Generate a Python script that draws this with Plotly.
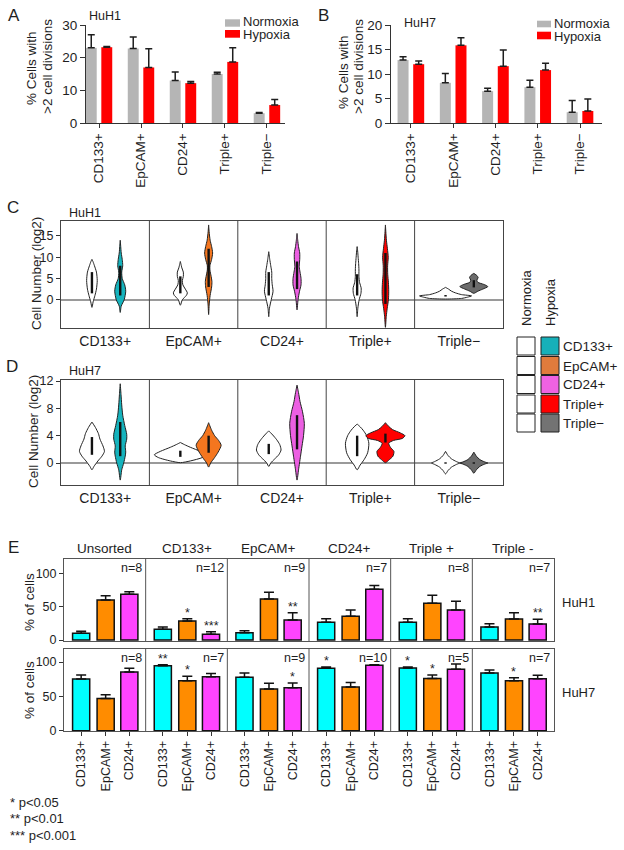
import plotly.graph_objects as go

W, H = 624, 850
def px(x): return x / W
def py(y): return 1 - y / H

FONT = "Liberation Sans, Arial, sans-serif"
INK = "#1e1e1e"

# ---------------- data ----------------
markers5 = ["CD133+", "EpCAM+", "CD24+", "Triple+", "Triple\u2212"]

# Panel A (HuH1) % cells with >2 divisions
huh1_norm_mean = [23.0, 22.8, 13.0, 15.0, 3.0]
huh1_norm_err = [4.0, 3.5, 2.6, 0.5, 0.25]
huh1_hyp_mean = [23.2, 17.0, 12.2, 18.7, 5.5]
huh1_hyp_err = [0.25, 5.7, 0.5, 4.3, 1.7]
# Panel B (HuH7)
huh7_norm_mean = [12.85, 8.2, 6.5, 7.3, 2.2]
huh7_norm_err = [0.65, 1.9, 0.6, 1.4, 2.4]
huh7_hyp_mean = [12.0, 15.85, 11.6, 10.8, 2.45]
huh7_hyp_err = [0.65, 1.55, 3.3, 1.4, 2.45]

# Panels C/D: violin density profiles (value, half-width)
huh1_norm_profiles = [
    [(-1.8, 0), (-0.5, 1.2), (1, 3), (2.5, 4.5), (4.5, 5.3), (6.5, 4.5), (8, 2.5), (9, 1), (9.5, 0)],
    [(-1.3, 0), (0, 2), (1, 6), (1.6, 7), (2.5, 5), (3.5, 2.5), (4.5, 2), (5.5, 3), (6.5, 3), (7.5, 1.5), (8.5, 0.5), (9, 0)],
    [(-4, 0), (-2, 0.7), (0, 2.5), (2, 4.3), (3.5, 3.5), (5, 3), (6.5, 3), (8, 2), (9.5, 1), (11.3, 0)],
    [(-4, 0), (-2, 0.7), (0, 2), (1.5, 3.8), (2.8, 4), (4, 2.5), (5.5, 1.8), (7, 1.8), (8.5, 1.5), (10, 1), (11.5, 0.5), (12.5, 0)],
    [(0.15, 0), (0.3, 16), (0.6, 22), (0.9, 26), (1.2, 16), (1.6, 10), (2.0, 6), (2.5, 3), (2.9, 0)],
]
huh1_hyp_profiles = [
    [(-3, 0), (-1.5, 1), (0, 4), (2, 5.5), (3.5, 4.5), (5, 2), (6.5, 1.5), (8, 2.5), (9.5, 2), (11, 1), (12.5, 0.5), (14, 0)],
    [(-3.5, 0), (-1, 0.6), (1, 1.5), (3, 3), (4.3, 3.3), (5.5, 2.5), (7, 1.3), (8, 1.3), (9.5, 3), (11, 4), (12.5, 3), (14, 1.5), (16, 0.5), (17.6, 0)],
    [(-2.4, 0), (0, 1), (2, 2.5), (3.5, 4), (5, 4), (6.5, 3), (7.8, 2.2), (9.5, 2.7), (11, 2.7), (12.5, 1.5), (14, 0.7), (15.6, 0)],
    [(-6.5, 0), (-4, 0.8), (-2, 1.8), (0, 3), (2, 3.3), (4, 3), (6, 2.3), (8, 2.2), (10, 2.8), (12, 2), (14, 1), (16, 0.4), (17.6, 0)],
    [(1.5, 0), (2.0, 4), (2.5, 9), (3.1, 14), (3.6, 10), (4.1, 4), (4.6, 3), (5.2, 4.3), (5.7, 3), (6.2, 0)],
]
huh7_norm_profiles = [
    [(-1, 0), (-0.5, 2), (0.3, 6), (1, 10), (1.7, 12.5), (2.5, 11), (3.5, 8), (4.3, 6.5), (5.2, 3.5), (6, 0)],
    [(0.05, 0), (0.3, 10), (0.8, 22), (1.2, 26), (1.7, 20), (2.3, 10), (2.7, 4), (3.0, 0)],
    [(-0.5, 0), (0, 2), (0.6, 6), (1.2, 10), (1.9, 12.3), (2.7, 11), (3.4, 8), (4.1, 4), (4.7, 0)],
    [(-1, 0), (-0.3, 3), (0.5, 7), (1.5, 10.5), (2.9, 11.7), (4.0, 9.5), (4.8, 6), (5.3, 3), (5.7, 0)],
    [(-1.6, 0), (-1.1, 2.5), (-0.6, 6), (-0.2, 11), (0, 14), (0.2, 11), (0.6, 6), (1.1, 2.5), (1.7, 0)],
]
huh7_hyp_profiles = [
    [(-2.5, 0), (-1, 1.5), (0, 3.5), (1, 5), (1.6, 5.5), (2.5, 5), (3.5, 6.5), (4.2, 6.5), (5.5, 4.5), (7, 2.5), (8.5, 1.5), (10, 0.8), (11.6, 0)],
    [(-0.6, 0), (0, 2), (0.8, 6), (1.6, 9.5), (2.6, 12.5), (3.3, 10), (4.0, 6), (4.8, 3), (5.9, 0)],
    [(-2.5, 0), (-1, 1.5), (0, 2.5), (1, 3.5), (2.5, 5), (4, 6.5), (5.8, 7.3), (7.5, 5.5), (9, 3), (10.3, 1.5), (11.4, 0)],
    [(0.05, 0), (0.5, 4), (1.0, 7.5), (1.7, 8.5), (2.3, 5), (2.9, 3.3), (3.3, 8), (3.6, 17), (4.0, 19.5), (4.4, 15), (4.9, 7), (5.4, 3), (5.9, 0)],
    [(-1.5, 0), (-1.0, 2.5), (-0.5, 6), (-0.15, 11), (0, 14), (0.15, 11), (0.5, 6), (1.0, 2.5), (1.6, 0)],
]
# inner boxes (q1, q3)
huh1_norm_box = [(1.5, 6.5), (1.5, 5.5), (1, 6.5), (1, 6), (0.75, 1.1)]
huh1_hyp_box = [(1, 8), (3, 12), (2.5, 9), (-1, 11), (2.9, 4.6)]
huh7_norm_box = [(1.2, 3.8), (0.9, 1.8), (1.3, 2.8), (1, 4), (-0.1, 0.1)]
huh7_hyp_box = [(1, 6), (1.5, 4), (2, 7), (3, 4.3), (-0.1, 0.1)]

# Panel E
e_groups = ["Unsorted", "CD133+", "EpCAM+", "CD24+", "Triple +", "Triple -"]
markers3 = ["CD133+", "EpCAM+", "CD24+"]
e_huh1_mean = [
    [10, 16, 11, 26.5, 26.5, 19.5],      # CD133+
    [60, 28.5, 61.5, 35.5, 55, 31.5],    # EpCAM+
    [68.5, 8.5, 30, 76, 45, 24],         # CD24+
]
e_huh1_err = [
    [3, 3.5, 3, 5.5, 5.5, 5],
    [6.5, 3.5, 10, 9.5, 12, 9.5],
    [4, 4, 11, 5.5, 13, 7],
]
e_huh7_mean = [
    [75.2, 94.7, 77.7, 90.8, 91.3, 84],
    [47, 72.8, 60.7, 63.6, 76.2, 72.8],
    [85.4, 78.6, 62.6, 95.2, 89.4, 75.7],
]
e_huh7_err = [
    [5.8, 1.3, 6.3, 1.9, 1.4, 4.3],
    [5.4, 6.4, 8.3, 6.8, 4.8, 4.4],
    [5.4, 4.9, 6.8, 0.8, 7.6, 4.9],
]
e_huh1_sig = [
    ["", "", "", "", "", ""],
    ["", "*", "", "", "", ""],
    ["", "***", "**", "", "", "**"],
]
e_huh7_sig = [
    ["", "**", "", "*", "*", ""],
    ["", "*", "", "", "*", "*"],
    ["", "", "*", "", "", ""],
]
e_huh1_n = [8, 12, 9, 7, 8, 7]
e_huh7_n = [8, 7, 9, 10, 5, 7]

# ---------------- styles ----------------
GREY = "#b5b5b5"
RED = "#ff0000"
VCOL = ["#15b3bd", "#f4761f", "#ec5fe2", "#ff0000", "#6c6c6c"]
LEGCOL = ["#17b0b9", "#e07b3c", "#ef62e2", "#ff0000", "#737373"]
ECOL = ["#00ffff", "#ff8c00", "#ff44ff"]

fig = go.Figure()

# ---- A & B ----
for xa, ya, nm, ne, hm, he in [("x", "y", huh1_norm_mean, huh1_norm_err, huh1_hyp_mean, huh1_hyp_err),
                              ("x2", "y2", huh7_norm_mean, huh7_norm_err, huh7_hyp_mean, huh7_hyp_err)]:
    for off, m, e, c in [(-0.185, nm, ne, GREY), (0.185, hm, he, RED)]:
        fig.add_trace(go.Bar(
            x=[i + off for i in range(len(markers5))], y=m, width=0.26,
            marker=dict(color=c, line=dict(width=0)),
            error_y=dict(type="data", array=e, arrayminus=[0] * len(e), symmetric=False,
                         color=INK, thickness=1.5, width=3.5),
            xaxis=xa, yaxis=ya, showlegend=False, hoverinfo="skip"))

# ---- C & D violins ----
VPX_PER_UNIT = 442 / 5.0
def violin(center, prof, fill, xa, ya):
    vals = [p[0] for p in prof]
    hw = [p[1] / VPX_PER_UNIT for p in prof]
    xs = [center + w for w in hw] + [center - w for w in reversed(hw)]
    ys = vals + list(reversed(vals))
    fig.add_trace(go.Scatter(x=xs, y=ys, mode="lines", fill="toself", fillcolor=fill,
                             line=dict(color="#222222", width=1, shape="spline", smoothing=0.7),
                             xaxis=xa, yaxis=ya, showlegend=False, hoverinfo="skip"))

def inner(center, box, xa, ya):
    fig.add_trace(go.Scatter(x=[center, center], y=list(box), mode="lines",
                             line=dict(color="#111111", width=2.4),
                             xaxis=xa, yaxis=ya, showlegend=False, hoverinfo="skip"))

for xa, ya, npr, hpr, nbx, hbx in [("x3", "y3", huh1_norm_profiles, huh1_hyp_profiles, huh1_norm_box, huh1_hyp_box),
                                   ("x4", "y4", huh7_norm_profiles, huh7_hyp_profiles, huh7_norm_box, huh7_hyp_box)]:
    for i in range(5):
        violin(i + 0.35, npr[i], "white", xa, ya)
        inner(i + 0.35, nbx[i], xa, ya)
        violin(i + 0.67, hpr[i], VCOL[i], xa, ya)
        inner(i + 0.67, hbx[i], xa, ya)

# ---- E bars ----
E_OFF = [0.21, 0.51, 0.80]
annotations = []
for xa, ya, means, errs, sigs in [("x5", "y5", e_huh1_mean, e_huh1_err, e_huh1_sig),
                                  ("x6", "y6", e_huh7_mean, e_huh7_err, e_huh7_sig)]:
    for j in range(3):
        xs = [g + E_OFF[j] for g in range(len(e_groups))]
        fig.add_trace(go.Bar(
            x=xs, y=means[j], width=0.21,
            marker=dict(color=ECOL[j], line=dict(color="#111111", width=1.5)),
            error_y=dict(type="data", array=errs[j], arrayminus=[0] * 6, symmetric=False,
                         color="#111111", thickness=1.5, width=5),
            xaxis=xa, yaxis=ya, showlegend=False, hoverinfo="skip"))
        for g in range(len(e_groups)):
            if sigs[j][g]:
                annotations.append(dict(x=xs[g], y=means[j][g] + errs[j][g], xref=xa, yref=ya,
                                        text=sigs[j][g], showarrow=False, yanchor="bottom",
                                        yshift=-3, font=dict(size=12.5, color=INK)))

# ---------------- axes ----------------
def base(**kw):
    d = dict(showgrid=False, zeroline=False, automargin=False, linecolor="#333333",
             linewidth=1, tickcolor="#333333", tickfont=dict(size=13.5, color=INK, family=FONT))
    d.update(kw)
    return d

layout_axes = dict(
    xaxis=base(domain=[px(86), px(285)], range=[-0.31, 4.43], anchor="y", showline=True,
               tickvals=list(range(5)), ticktext=markers5, tickangle=-90, ticks="outside", ticklen=4),
    yaxis=base(domain=[py(123), py(25)], range=[0, 30], anchor="x", showline=True,
               tickvals=[0, 10, 20, 30], ticks="outside", ticklen=5),
    xaxis2=base(domain=[px(391), px(602)], range=[-0.47, 4.52], anchor="y2", showline=True,
                tickvals=list(range(5)), ticktext=markers5, tickangle=-90, ticks="outside", ticklen=4),
    yaxis2=base(domain=[py(123), py(25)], range=[0, 20], anchor="x2", showline=True,
                tickvals=[0, 5, 10, 15, 20], ticks="outside", ticklen=5),
    xaxis3=base(domain=[px(61), px(503)], range=[0, 5], anchor="y3", showline=True, mirror=True,
                linecolor="#444444", tickvals=[i + 0.5 for i in range(5)], ticktext=markers5,
                ticks="", tickfont=dict(size=14, color=INK, family=FONT)),
    yaxis3=base(domain=[py(328), py(221)], range=[-6.66, 18.53], anchor="x3", showline=True, mirror=True,
                linecolor="#444444", tickvals=[0, 5, 10, 15], ticks="outside", ticklen=4,
                tickfont=dict(size=12.5, color=INK, family=FONT),
                zeroline=True, zerolinecolor="#9a9a9a", zerolinewidth=1.5),
    xaxis4=base(domain=[px(61), px(503)], range=[0, 5], anchor="y4", showline=True, mirror=True,
                linecolor="#444444", tickvals=[i + 0.5 for i in range(5)], ticktext=markers5,
                ticks="", tickfont=dict(size=14, color=INK, family=FONT)),
    yaxis4=base(domain=[py(485), py(380)], range=[-3.22, 12.15], anchor="x4", showline=True, mirror=True,
                linecolor="#444444", tickvals=[0, 4, 8, 12], ticks="outside", ticklen=4,
                tickfont=dict(size=12.5, color=INK, family=FONT),
                zeroline=True, zerolinecolor="#9a9a9a", zerolinewidth=1.5),
    xaxis5=base(domain=[px(64), px(554)], range=[0, 6], anchor="y5", showline=True, mirror=True,
                linecolor="#555555", showticklabels=False, ticks=""),
    yaxis5=base(domain=[py(641), py(559)], range=[-1.5, 121.4], anchor="x5", showline=True, mirror=True,
                linecolor="#555555", tickvals=[0, 50, 100], ticks="outside", ticklen=4,
                tickfont=dict(size=12.5, color=INK, family=FONT)),
    xaxis6=base(domain=[px(64), px(554)], range=[0, 6], anchor="y6", showline=True, mirror=True,
                linecolor="#555555", tickvals=[g + o for g in range(6) for o in E_OFF],
                ticktext=markers3 * 6, tickangle=-90, ticks="outside", ticklen=4,
                tickfont=dict(size=12.5, color=INK, family=FONT)),
    yaxis6=base(domain=[py(731), py(649)], range=[-0.4, 119], anchor="x6", showline=True, mirror=True,
                linecolor="#555555", tickvals=[0, 50, 100], ticks="outside", ticklen=4,
                tickfont=dict(size=12.5, color=INK, family=FONT)),
)

# ---------------- shapes ----------------
shapes = []
for xa, ya in [("x3", "y3"), ("x4", "y4")]:
    for k in range(1, 5):
        shapes.append(dict(type="line", xref=xa, yref=ya + " domain", x0=k, x1=k, y0=0, y1=1,
                           line=dict(color="#444444", width=1)))
for xa, ya in [("x5", "y5"), ("x6", "y6")]:
    for k in range(1, 6):
        shapes.append(dict(type="line", xref=xa, yref=ya + " domain", x0=k, x1=k, y0=0, y1=1,
                           line=dict(color="#555555", width=1)))

def rect(x0, y0, x1, y1, fill, lc="rgba(0,0,0,0)", lw=0):
    shapes.append(dict(type="rect", xref="paper", yref="paper", x0=px(x0), x1=px(x1),
                       y0=py(y1), y1=py(y0), fillcolor=fill, line=dict(color=lc, width=lw)))

def text(x, y, s, size=13.5, xanchor="left", yanchor="middle", angle=0, color=INK):
    annotations.append(dict(x=px(x), y=py(y), xref="paper", yref="paper", text=s, showarrow=False,
                            xanchor=xanchor, yanchor=yanchor, textangle=angle,
                            font=dict(size=size, color=color, family=FONT)))

# A/B legends
rect(225, 19.3, 240, 26.7, GREY)
rect(225, 30.0, 240, 37.7, RED)
text(241, 22, "Normoxia", size=13)
text(241, 34.5, "Hypoxia", size=13)
rect(537, 20.7, 551, 27.3, GREY)
rect(537, 31.7, 551, 39.3, RED)
text(552, 23.5, "Normoxia", size=13)
text(552, 36, "Hypoxia", size=13)

# C/D legend grid
row_tops = [337, 356.5, 375.5, 395, 414]
for r, t in enumerate(row_tops):
    rect(517, t, 535, t + 18, "white", "#222222", 1)
    rect(541, t, 559, t + 18, LEGCOL[r], "#222222", 1)
    text(561, t + 9.5, markers5[r], size=13.5)
text(526, 328, "Normoxia", size=13, xanchor="center", yanchor="bottom", angle=-90)
text(550, 328, "Hypoxia", size=13, xanchor="center", yanchor="bottom", angle=-90)

# panel letters & titles
text(14, 16, "A", size=17, xanchor="center")
text(323, 16, "B", size=17, xanchor="center")
text(13, 207, "C", size=17, xanchor="center")
text(12, 366, "D", size=17, xanchor="center")
text(13, 547, "E", size=17, xanchor="center")
text(87, 16.5, "HuH1", size=12.5)
text(402, 22.5, "HuH7", size=12.5)
text(67, 212.5, "HuH1", size=12.5)
text(67, 371.5, "HuH7", size=12.5)

# axis titles
text(32, 68, "% Cells with", size=13.5, xanchor="center", angle=-90)
text(47, 67, ">2 cell divisions", size=13.5, xanchor="center", angle=-90)
text(343, 72, "% Cells with", size=13.5, xanchor="center", angle=-90)
text(358, 67, ">2 cell divisions", size=13.5, xanchor="center", angle=-90)
text(37, 274, "Cell Number (log2)", size=13.5, xanchor="center", angle=-90)
text(34, 432, "Cell Number (log2)", size=13.5, xanchor="center", angle=-90)
text(29, 602, "% of cells", size=13.5, xanchor="center", angle=-90)
text(29, 690, "% of cells", size=13.5, xanchor="center", angle=-90)

# E headers, n labels, row labels
for g, name in enumerate(e_groups):
    annotations.append(dict(x=g + 0.5, y=py(548), xref="x5", yref="paper", text=name, showarrow=False,
                            xanchor="center", yanchor="middle", font=dict(size=13.5, color=INK, family=FONT)))
for xa, ya, ns in [("x5", "y5", e_huh1_n), ("x6", "y6", e_huh7_n)]:
    for g, n in enumerate(ns):
        annotations.append(dict(x=g + 0.98, y=1, xref=xa, yref=ya + " domain", text="n=%d" % n,
                                showarrow=False, xanchor="right", yanchor="top",
                                font=dict(size=12.5, color=INK, family=FONT)))
text(560, 602, "HuH1", size=13)
text(560, 692, "HuH7", size=13)

# footnote
text(8, 802, "* p&lt;0.05", size=13)
text(8, 818.5, "** p&lt;0.01", size=13)
text(8, 835, "*** p&lt;0.001", size=13)

fig.update_layout(
    width=W, height=H, margin=dict(l=0, r=0, t=0, b=0),
    paper_bgcolor="white", plot_bgcolor="white", template="none",
    font=dict(family=FONT, color=INK), barmode="overlay",
    shapes=shapes, annotations=annotations, showlegend=False,
    **layout_axes)

fig.write_html("out.html", config={"displayModeBar": False},
               post_script="document.body.style.margin='0';document.body.style.padding='0';")
